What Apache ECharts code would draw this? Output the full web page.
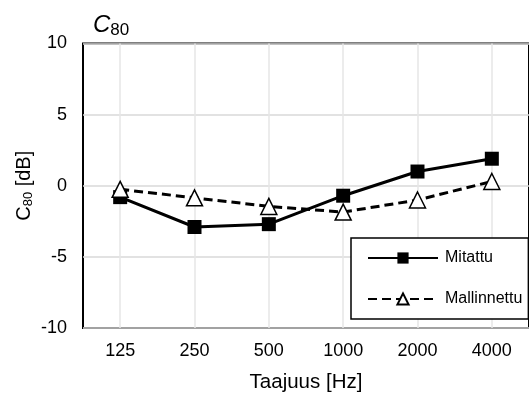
<!DOCTYPE html>
<html>
<head>
<meta charset="utf-8">
<script src="https://cdn.jsdelivr.net/npm/echarts@6/dist/echarts.min.js"></script>
<style>
  html, body { margin: 0; padding: 0; background: #fff; }
  #chart { width: 529px; height: 398px; }
</style>
</head>
<body>
<div id="chart"></div>
<script>
// Taajuusluokat ja arvot
const frequencies = ['125', '250', '500', '1000', '2000', '4000'];
const mitattu = [-0.8, -2.9, -2.7, -0.7, 1.0, 1.9];
const mallinnettu = [-0.25, -0.85, -1.45, -1.85, -1.0, 0.3];

const FONT = '"Liberation Sans", Arial, sans-serif';
const chart = echarts.init(document.getElementById('chart'));

const option = {
  animation: false,
  title: {
    text: '{c|C}{s|80}',
    left: 88,
    top: 7,
    textStyle: {
      fontWeight: 'normal',
      rich: {
        c: { fontFamily: FONT, fontSize: 24, fontStyle: 'italic', color: '#000' },
        s: { fontFamily: FONT, fontSize: 17, color: '#000', padding: [10, 0, 0, 0] }
      }
    }
  },
  grid: {
    left: 83,
    right: -7,
    top: 43.5,
    bottom: 69,
    show: true,
    borderColor: '#000',
    borderWidth: 2,
    backgroundColor: '#fff'
  },
  legend: {
    orient: 'vertical',
    left: 351,
    top: 238,
    width: 160,
    padding: [12, 6, 12, 16],
    itemWidth: 70,
    itemHeight: 14,
    itemGap: 25,
    borderColor: '#000',
    borderWidth: 1.5,
    backgroundColor: '#fff',
    textStyle: { fontFamily: FONT, fontSize: 16, color: '#000', padding: [0, 0, 0, 2] },
    data: ['Mitattu', 'Mallinnettu']
  },
  xAxis: {
    type: 'category',
    data: frequencies,
    boundaryGap: true,
    name: 'Taajuus [Hz]',
    nameLocation: 'middle',
    nameGap: 44,
    nameTextStyle: { fontFamily: FONT, fontSize: 20.5, color: '#000' },
    axisLine: { show: false },
    axisTick: { show: false },
    splitLine: { show: false },
    axisLabel: { fontFamily: FONT, fontSize: 18, color: '#000', margin: 14 }
  },
  yAxis: {
    type: 'value',
    min: -10,
    max: 10,
    interval: 5,
    name: '{c|C}{s|80}{t| [dB]}',
    nameLocation: 'middle',
    nameGap: 48,
    nameMoveOverlap: false,
    nameTextStyle: {
      rich: {
        c: { fontFamily: FONT, fontSize: 20, color: '#000' },
        s: { fontFamily: FONT, fontSize: 13, color: '#000', padding: [9, 0, 0, 0] },
        t: { fontFamily: FONT, fontSize: 20, color: '#000' }
      }
    },
    axisLine: { show: false },
    axisTick: { show: false },
    splitLine: { show: true, lineStyle: { color: '#d9d9d9', width: 1.5 } },
    axisLabel: { fontFamily: FONT, fontSize: 18, color: '#000', margin: 16 }
  },
  series: [
    {
      name: 'Mitattu',
      type: 'line',
      data: mitattu,
      symbol: 'rect',
      symbolSize: 14,
      itemStyle: { color: '#000' },
      lineStyle: { color: '#000', width: 3 },
      z: 3,
      markLine: {
        silent: true,
        symbol: 'none',
        label: { show: false },
        lineStyle: { color: '#e6e6e6', width: 1.5, type: 'solid' },
        z: 1,
        data: frequencies.map(f => ({ xAxis: f }))
      }
    },
    {
      name: 'Mallinnettu',
      type: 'line',
      data: mallinnettu,
      symbol: 'triangle',
      symbolSize: 16,
      itemStyle: { color: '#fff', borderColor: '#000', borderWidth: 1.5 },
      lineStyle: { color: '#000', width: 3, type: [9, 5] },
      z: 4
    }
  ]
};

chart.setOption(option);
</script>
</body>
</html>
